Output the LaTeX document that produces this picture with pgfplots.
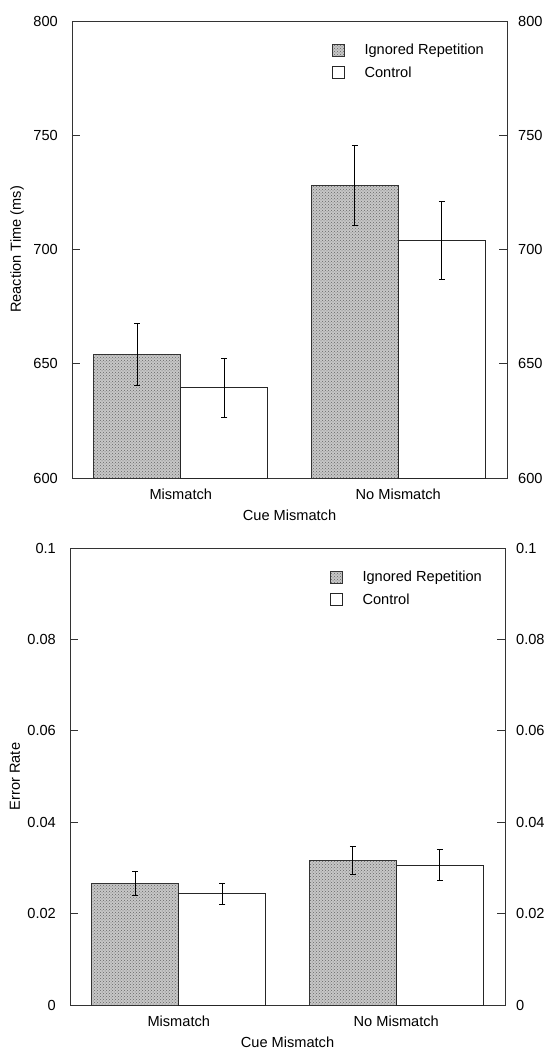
\documentclass[border=0pt]{standalone}
\usepackage{pgfplots}
\pgfplotsset{compat=1.18}
\usepackage{fontspec}
\setmainfont{Liberation Sans}
\usetikzlibrary{patterns}
\newcommand{\ff}{\fontsize{14.6}{17}\selectfont}
\pgfplotsset{
  mybase/.style={
    scale only axis, width=435pt, height=457pt,
    xmin=-0.5, xmax=1.5,
    axis line style={black!80, line width=0.8pt},
    tick label style={font=\ff},
    /pgf/number format/assume math mode=true,
  },
  mymain/.style={
    mybase,
    ybar, bar width=0.4,
    xtick={0,1}, xticklabels={Mismatch,No Mismatch},
    major x tick style={draw=none},
    ytick pos=both, tick align=inside,
    major tick length=8pt,
    major y tick style={black!80, line width=0.8pt},
    yticklabel style={anchor=east, inner sep=0pt, xshift=-14pt},
    xticklabel style={anchor=center, yshift=-16pt},
    every axis x label/.style={at={(rel axis cs:0.5,0)}, yshift=-37pt, anchor=center, font=\ff},
    every axis y label/.style={at={(rel axis cs:0,0.5)}, xshift=-55pt, rotate=90, anchor=center, font=\ff},
    xlabel={Cue Mismatch},
    legend style={at={(rel axis cs:0.59,0.955)}, anchor=north west, draw=none, fill=none,
      font=\ff, row sep=10pt, nodes={inner sep=0pt}, cells={anchor=west},
      /tikz/every odd column/.append style={column sep=20pt}},
    legend image code/.code={\draw[#1] (0pt,-6pt) rectangle (12pt,6pt);},
  },
  myright/.style={
    mybase,
    axis x line=none, axis y line*=right,
    y axis line style={draw=none},
    major y tick style={draw=none},
    yticklabel pos=right,
    yticklabel style={anchor=west, inner sep=0pt, xshift=11pt},
  },
  igbar/.style={draw=black!80, line width=0.7pt, fill=black!22,
     postaction={pattern=crosshatch dots, pattern color=black!60}},
  ctbar/.style={draw=black!85, line width=0.7pt, fill=white},
  myerr/.style={error bars/.cd, y dir=both, y explicit,
     error bar style={black, line width=0.9pt},
     error mark options={rotate=90, mark size=3pt, black, line width=0.9pt}},
}
\begin{document}
\begin{tikzpicture}
% ---------- top panel ----------
\begin{axis}[mymain, at={(72pt,-478pt)}, anchor=south west,
  ymin=600, ymax=800, ytick={600,650,700,750,800},
  ylabel={Reaction Time (ms)}]
\addplot+[igbar, bar shift=-0.2, myerr] coordinates {(0,654) +- (0,13.7) (1,728) +- (0,17.5)};
\addplot+[ctbar, bar shift=0.2, myerr] coordinates {(0,639.5) +- (0,12.8) (1,704) +- (0,17.2)};
\legend{Ignored Repetition, Control}
\end{axis}
\begin{axis}[myright, at={(72pt,-478pt)}, anchor=south west,
  ymin=600, ymax=800, ytick={600,650,700,750,800}]
\addplot[draw=none] coordinates {(0,600)};
\end{axis}
% ---------- bottom panel ----------
\begin{axis}[mymain, at={(70pt,-1005pt)}, anchor=south west,
  ymin=0, ymax=0.1, ytick={0,0.02,0.04,0.06,0.08,0.1},
  yticklabels={0,0.02,0.04,0.06,0.08,0.1},
  ylabel={Error Rate}]
\addplot+[igbar, bar shift=-0.2, myerr] coordinates {(0,0.0266) +- (0,0.0026) (1,0.0316) +- (0,0.0030)};
\addplot+[ctbar, bar shift=0.2, myerr] coordinates {(0,0.0244) +- (0,0.0023) (1,0.0306) +- (0,0.0034)};
\legend{Ignored Repetition, Control}
\end{axis}
\begin{axis}[myright, at={(70pt,-1005pt)}, anchor=south west,
  ymin=0, ymax=0.1, ytick={0,0.02,0.04,0.06,0.08,0.1},
  yticklabels={0,0.02,0.04,0.06,0.08,0.1}]
\addplot[draw=none] coordinates {(0,0)};
\end{axis}
\pgfresetboundingbox
\path[use as bounding box] (0,0) rectangle (548pt,-1052pt);
\end{tikzpicture}
\end{document}
